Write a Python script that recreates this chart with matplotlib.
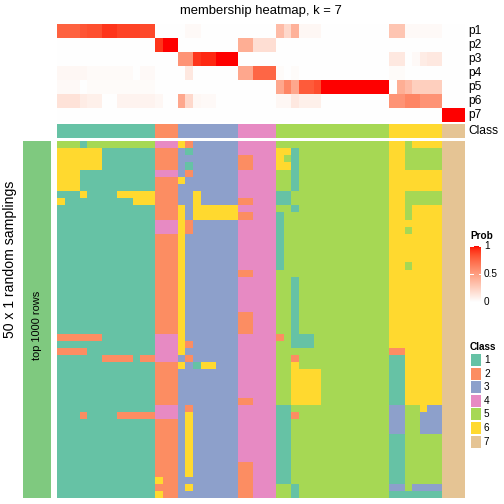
import numpy as np
import matplotlib
matplotlib.use("Agg")
import matplotlib.pyplot as plt
from matplotlib.colors import ListedColormap
from matplotlib.patches import Rectangle

plt.rcParams['font.family'] = ['Liberation Sans', 'DejaVu Sans']

# ---- data ----
class_colors = ["#66C2A5", "#FC8D62", "#8DA0CB", "#E78AC3", "#A6D854", "#FFD92F", "#E5C494"]
class_labels = ["1", "2", "3", "4", "5", "6", "7"]
prob_rows = ["p1", "p2", "p3", "p4", "p5", "p6", "p7"]

# class of each column (54 columns)
col_class = "111111111111122233333333444445555555555555556666666777"

# membership probabilities, one list per row, 54 columns
p1 = [0.77, 0.77, 0.77, 0.82, 0.84, 0.84, 0.92, 0.92, 0.88, 0.88, 0.88, 0.86, 0.86,
      0, 0, 0,
      0, 0.03, 0.03, 0, 0, 0, 0, 0,
      0, 0, 0, 0, 0,
      0.35, 0.2, 0.4, 0.04, 0.04, 0.04, 0, 0, 0, 0, 0, 0, 0, 0, 0,
      0.3, 0.3, 0.03, 0.03, 0.03, 0.03, 0.03,
      0, 0, 0]
p2 = [0, 0, 0, 0, 0, 0, 0, 0, 0, 0, 0, 0, 0,
      0.92, 1, 1,
      0, 0, 0, 0, 0, 0, 0, 0,
      0.42, 0.42, 0.17, 0.17, 0.17,
      0, 0, 0, 0, 0, 0, 0, 0, 0, 0, 0, 0, 0, 0, 0,
      0, 0, 0, 0, 0, 0, 0,
      0, 0, 0]
p3 = [0, 0, 0, 0, 0, 0, 0, 0, 0, 0, 0, 0, 0,
      0, 0, 0,
      0.55, 0.55, 0.92, 0.95, 0.95, 1, 1, 1,
      0, 0, 0, 0, 0,
      0, 0, 0, 0, 0, 0, 0, 0, 0, 0, 0, 0, 0, 0, 0,
      0.12, 0.12, 0, 0.03, 0.1, 0.12, 0.12,
      0, 0, 0]
p4 = [0.04, 0.04, 0.04, 0.04, 0.025, 0.025, 0.025, 0.025, 0.025, 0.025, 0, 0.03, 0.03,
      0, 0, 0,
      0, 0.12, 0, 0, 0, 0, 0, 0,
      0.45, 0.45, 0.75, 0.75, 0.75,
      0.02, 0, 0.02, 0, 0, 0, 0, 0, 0, 0, 0, 0, 0, 0, 0,
      0.02, 0.02, 0, 0, 0, 0, 0,
      0, 0, 0]
p5 = [0.03, 0.03, 0.03, 0, 0.02, 0.02, 0.02, 0.02, 0.02, 0.02, 0.02, 0.02, 0.02,
      0, 0, 0,
      0, 0, 0, 0, 0, 0, 0, 0,
      0, 0, 0, 0, 0,
      0.45, 0.62, 0.45, 0.8, 0.8, 0.85, 1, 1, 1, 1, 1, 1, 1, 1, 1,
      0, 0.42, 0.35, 0.25, 0.25, 0.25, 0.25,
      0, 0, 0]
p6 = [0.15, 0.15, 0.15, 0.1, 0.08, 0.08, 0, 0, 0.06, 0.06, 0.06, 0.06, 0.06,
      0.04, 0, 0,
      0.45, 0.2, 0.04, 0.03, 0.03, 0, 0, 0,
      0, 0, 0, 0, 0,
      0.04, 0.04, 0.12, 0.08, 0.08, 0.08, 0, 0, 0, 0, 0, 0, 0, 0, 0,
      0.55, 0.55, 0.62, 0.62, 0.55, 0.55, 0.55,
      0, 0, 0]
p7 = [0, 0, 0, 0, 0, 0, 0, 0, 0, 0, 0, 0, 0,
      0, 0, 0,
      0, 0, 0, 0, 0, 0, 0, 0,
      0, 0, 0, 0, 0,
      0, 0, 0, 0, 0, 0, 0, 0, 0, 0, 0, 0, 0, 0, 0,
      0, 0, 0, 0, 0, 0, 0,
      1, 1, 1]

# class assigned in each of the 50 samplings (rows) for every column
samplings = [
    "5551555555555" "444" "62333333" "44444" "555555555555555" "6656666" "777",
    "6666661111111" "222" "31333333" "44444" "661555555555555" "6655555" "777",
    "6666661111111" "222" "33333333" "22444" "651555555555555" "6655555" "777",
    "6666661111111" "222" "31333333" "22444" "661555555555555" "6655555" "777",
    "6661111111111" "444" "32333333" "44444" "551555555555555" "6666666" "777",
    "6661111111111" "222" "63333333" "44444" "551555555555555" "6666666" "777",
    "6661111111111" "222" "33333333" "44444" "551555555555555" "6666666" "777",
    "1116111166666" "222" "33633333" "44444" "115555555555555" "6655555" "777",
    "6111111111666" "222" "33633333" "22444" "115555555555555" "6655555" "777",
    "1111111111111" "222" "63666666" "44444" "551555555555555" "6656666" "777",
    "1111111111111" "222" "63666666" "22444" "155555555555555" "6656666" "777",
    "1111111111111" "444" "62333333" "44444" "155555555555555" "6666666" "777",
    "1111111111111" "444" "62333333" "44444" "155555555555555" "6656666" "777",
    "1111111111111" "222" "63333333" "44444" "155555555555555" "6666666" "777",
    "1111111111111" "222" "63333333" "44444" "155555555555555" "6666666" "777",
    "1111111111111" "222" "63333333" "44444" "155555555555555" "6666666" "777",
    "1111111111111" "222" "63333333" "44444" "155555555555555" "6666666" "777",
    "1111111111111" "222" "63333333" "44444" "155555555555555" "6656666" "777",
    "1111111111111" "222" "63333333" "22444" "555555555555555" "6666666" "777",
    "1111111111111" "222" "63333333" "44444" "551555555555555" "6666666" "777",
    "1111111111111" "222" "63333333" "44444" "551555555555555" "6666666" "777",
    "1111111111111" "222" "63333333" "44444" "551555555555555" "6666666" "777",
    "1111111111111" "222" "63333333" "44444" "551555555555555" "6666666" "777",
    "1111111111111" "222" "63333333" "44444" "551555555555555" "6666666" "777",
    "1111111111111" "222" "63333333" "22444" "551555555555555" "6666666" "777",
    "1111111111111" "222" "63333333" "22444" "551555555555555" "6666666" "777",
    "1111111111111" "222" "63333333" "22444" "551555555555555" "6666666" "777",
    "2222221111111" "444" "63333333" "44444" "251115555555555" "6666666" "777",
    "1111111111111" "444" "62333333" "44444" "551115555555555" "6666666" "777",
    "2222111111111" "444" "63333333" "44444" "555555555555555" "2266666" "777",
    "1111112222122" "444" "32333333" "44444" "552555555555555" "1166666" "777",
    "1111111111111" "222" "63166333" "44444" "556555555555555" "1166666" "777",
    "1111111111111" "222" "33333333" "44444" "556666555555555" "1166666" "777",
    "1111111111111" "222" "33333333" "44444" "556666555555555" "1166666" "777",
    "1111111111111" "222" "33333333" "44444" "556666555555555" "1166666" "777",
    "1111111111111" "222" "33333333" "44444" "556666555555555" "1166666" "777",
    "1111111111111" "222" "33333333" "22444" "556666555555555" "1166666" "777",
    "1111111111111" "444" "32333333" "44444" "115555555555555" "3355633" "777",
    "1112111122222" "444" "36333333" "44444" "112555555555555" "3355333" "777",
    "1111111111111" "222" "36333333" "44444" "115555555555555" "3355333" "777",
    "1111111111111" "222" "36333333" "44444" "115555555555555" "3355333" "777",
    "1111111111111" "222" "36333333" "44444" "115555555555555" "1155555" "777",
    "1111111111111" "222" "36333333" "44444" "115555555555555" "1155555" "777",
    "1111111111111" "222" "36333333" "44444" "115555555555555" "1155555" "777",
    "1111111111111" "222" "36333333" "44444" "115555555555555" "1155555" "777",
    "1111111111111" "222" "36333333" "22444" "115555555555555" "1155555" "777",
    "1111111111111" "222" "36333333" "22444" "115555555555555" "1155555" "777",
    "1111111111111" "622" "33333333" "22444" "115555555555555" "1155555" "777",
    "1111111111111" "222" "36333333" "22444" "551555555555555" "3353333" "777",
    "1111111111111" "622" "33333333" "22444" "551555555555555" "1111111" "777",
]


# white -> red ramp interpolated in Lab space
def lab_to_rgb(L, a, b):
    fy = (L + 16) / 116
    fx = fy + a / 500
    fz = fy - b / 200
    def finv(t):
        return np.where(t ** 3 > 0.008856, t ** 3, (t - 16 / 116) / 7.787)
    X = 0.95047 * finv(fx)
    Y = finv(fy)
    Z = 1.08883 * finv(fz)
    r = 3.2406 * X - 1.5372 * Y - 0.4986 * Z
    g = -0.9689 * X + 1.8758 * Y + 0.0415 * Z
    bb = 0.0557 * X - 0.2040 * Y + 1.0570 * Z
    rgb = np.clip(np.stack([r, g, bb], -1), 0, 1)
    rgb = np.where(rgb > 0.0031308, 1.055 * rgb ** (1 / 2.4) - 0.055, 12.92 * rgb)
    return np.clip(rgb, 0, 1)

t = np.linspace(0, 1, 256)
prob_cmap = ListedColormap(lab_to_rgb(100 - t * (100 - 53.24), t * 80.09, t * 67.20))
class_cmap = ListedColormap(class_colors)

W, H = 504, 504
fig = plt.figure(figsize=(7, 7), dpi=72)

def add_ax(x0, y0, x1, y1):
    ax = fig.add_axes([x0 / W, 1 - y1 / H, (x1 - x0) / W, (y1 - y0) / H])
    ax.set_axis_off()
    return ax

# overlay in pixel coordinates for texts and legends
ov = fig.add_axes([0, 0, 1, 1])
ov.set_xlim(0, W)
ov.set_ylim(H, 0)
ov.set_axis_off()

hx0, hx1 = 57, 465

prob = np.array([p1, p2, p3, p4, p5, p6, p7])
ax1 = add_ax(hx0, 24, hx1, 122)
ax1.imshow(prob, cmap=prob_cmap, vmin=0, vmax=1, aspect='auto', interpolation='nearest')

cls = np.array([[int(c) - 1 for c in col_class]])
ax2 = add_ax(hx0, 124, hx1, 138)
ax2.imshow(cls, cmap=class_cmap, vmin=-0.5, vmax=6.5, aspect='auto', interpolation='nearest')

mat = np.array([[int(c) - 1 for c in row] for row in samplings])
ax3 = add_ax(hx0, 141, hx1, 498)
ax3.imshow(mat, cmap=class_cmap, vmin=-0.5, vmax=6.5, aspect='auto', interpolation='nearest')

# labels
ov.text((hx0 + hx1) / 2, 11, "membership heatmap, k = 7", ha='center', va='center', fontsize=13)
for i, lab in enumerate(prob_rows):
    ov.text(468, 31 + 14 * i, lab, ha='left', va='center', fontsize=12)
ov.text(468, 131, "Class", ha='left', va='center', fontsize=12)

ov.add_patch(Rectangle((23, 141), 28, 357, color="#7FC97F", lw=0))
ov.text(37, 325, "top 1000 rows", rotation=90, ha='center', va='center', fontsize=11)
ov.text(10, 259, "50 x 1 random samplings", rotation=90, ha='center', va='center', fontsize=14)

# Prob legend
ov.text(470, 236, "Prob", ha='left', va='center', fontsize=10, fontweight='bold')
cb = add_ax(470, 246, 481, 302)
cb.imshow(np.linspace(1, 0, 200)[:, None], cmap=prob_cmap, vmin=0, vmax=1, aspect='auto')
for v, s in [(1, "1"), (0.5, "0.5"), (0, "0")]:
    y = 302 - 56 * v
    ov.text(484, y, s, ha='left', va='center', fontsize=10)
    if v > 0:
        ov.plot([470, 472.5], [y, y], color='white', lw=1, zorder=5)
        ov.plot([478.5, 481], [y, y], color='white', lw=1, zorder=5)
cb.set_zorder(1)
ov.set_zorder(2)

# Class legend
ov.text(470, 347, "Class", ha='left', va='center', fontsize=10, fontweight='bold')
for i, (c, lab) in enumerate(zip(class_colors, class_labels)):
    y = 360 + 13.6 * i
    ov.add_patch(Rectangle((471, y - 6), 10, 12, color=c, lw=0))
    ov.text(484, y, lab, ha='left', va='center', fontsize=10)

fig.savefig("out.png", dpi=72)
